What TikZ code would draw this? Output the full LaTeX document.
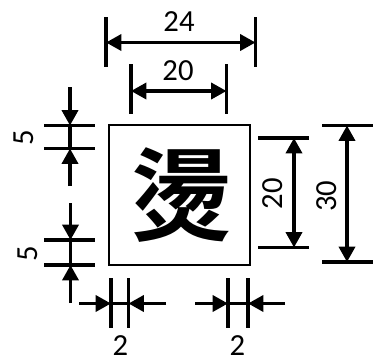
\documentclass[tikz,border=0pt]{standalone}
\usepackage{fontspec}
\setmainfont{Carlito}
\newfontfamily\cjk{Noto Sans CJK TC}[BoldFont={* Bold}]
\usetikzlibrary{arrows.meta}
\tikzset{
  x=0.75pt,y=-0.75pt,
  dimbar/.style={line width=2.6pt},
  dimline/.style={line width=2.6pt,{Triangle[length=11.5pt,width=12pt]}-{Triangle[length=11.5pt,width=12pt]}},
  oneend/.style={line width=2.6pt,-{Triangle[length=11.5pt,width=12pt]}},
  lab/.style={font=\fontsize{23}{24}\selectfont,inner sep=0pt},
  vlab/.style={lab,rotate=90}
}
\begin{document}
\begin{tikzpicture}
\useasboundingbox (0,0) rectangle (375,358);
\node[draw,line width=1.4pt,minimum width=105.5pt,minimum height=105pt,inner sep=0pt] (box) at (179.5,195) {};
\node[inner sep=0pt,font=\cjk\bfseries\fontsize{76}{76}\selectfont] (glyph) at (181.5,195) {燙};
% 24
\coordinate (a1) at (106,17);\coordinate (a2) at (106,67);\coordinate (a3) at (255.5,17);\coordinate (a4) at (255.5,67);
\coordinate (al) at (106,42.5);\coordinate (ar) at (255.5,42.5);
\draw[dimbar] (a1)--(a2);\draw[dimbar] (a3)--(a4);\draw[dimline] (al)--(ar);
\node[lab] (t24) at (179,22) {24};
% 20 top
\coordinate (b1) at (131,64);\coordinate (b2) at (131,114);\coordinate (b3) at (226.5,64);\coordinate (b4) at (226.5,114);
\coordinate (bl) at (131,91);\coordinate (br) at (226.5,91);
\draw[dimbar] (b1)--(b2);\draw[dimbar] (b3)--(b4);\draw[dimline] (bl)--(br);
\node[lab] (t20) at (178,71) {20};
% 5 upper
\coordinate (c1) at (44,125.5);\coordinate (c2) at (95,125.5);\coordinate (c3) at (44,148.5);\coordinate (c4) at (95,148.5);
\coordinate (ct) at (70,87);\coordinate (cu) at (70,125.5);\coordinate (cv) at (70,148.5);\coordinate (cb) at (70,186);
\draw[dimbar] (c1)--(c2);\draw[dimbar] (c3)--(c4);
\draw[oneend] (ct)--(cu);\draw[oneend] (cb)--(cv);\draw[line width=2.6pt] (cu)--(cv);
\node[vlab] (t5a) at (23.5,138) {5};
% 5 lower
\coordinate (d1) at (44,240);\coordinate (d2) at (95,240);\coordinate (d3) at (44,265);\coordinate (d4) at (95,265);
\coordinate (dt) at (70.5,203);\coordinate (du) at (70.5,240);\coordinate (dv) at (70.5,265);\coordinate (db) at (70.5,303);
\draw[dimbar] (d1)--(d2);\draw[dimbar] (d3)--(d4);
\draw[oneend] (dt)--(du);\draw[oneend] (db)--(dv);\draw[line width=2.6pt] (du)--(dv);
\node[vlab] (t5b) at (27.5,254) {5};
% 2 left
\coordinate (e1) at (111,278);\coordinate (e2) at (111,328);\coordinate (e3) at (128.5,278);\coordinate (e4) at (128.5,328);
\coordinate (el) at (79,303.5);\coordinate (eu) at (111,303.5);\coordinate (ev) at (128.5,303.5);\coordinate (er) at (166,303.5);
\draw[dimbar] (e1)--(e2);\draw[dimbar] (e3)--(e4);
\draw[oneend] (el)--(eu);\draw[oneend] (er)--(ev);\draw[line width=1.6pt] (eu)--(ev);
\node[lab] (t2a) at (120.5,345.5) {2};
% 2 right
\coordinate (f1) at (228,278);\coordinate (f2) at (228,328);\coordinate (f3) at (248,278);\coordinate (f4) at (248,328);
\coordinate (fl) at (195,303.5);\coordinate (fu) at (228,303.5);\coordinate (fv) at (248,303.5);\coordinate (fr) at (285,303.5);
\draw[dimbar] (f1)--(f2);\draw[dimbar] (f3)--(f4);
\draw[oneend] (fl)--(fu);\draw[oneend] (fr)--(fv);\draw[line width=1.6pt] (fu)--(fv);
\node[lab] (t2b) at (237.5,345.5) {2};
% 20 right
\coordinate (g1) at (258,138);\coordinate (g2) at (309,138);\coordinate (g3) at (258,247.5);\coordinate (g4) at (309,247.5);
\coordinate (gt) at (294,138);\coordinate (gb) at (294,247.5);
\draw[dimbar] (g1)--(g2);\draw[dimbar] (g3)--(g4);\draw[dimline] (gt)--(gb);
\node[vlab] (t20r) at (272.5,193.5) {20};
% 30
\coordinate (h1) at (322,125.5);\coordinate (h2) at (373,125.5);\coordinate (h3) at (322,262);\coordinate (h4) at (373,262);
\coordinate (ht) at (347,125.5);\coordinate (hb) at (347,262);
\draw[dimbar] (h1)--(h2);\draw[dimbar] (h3)--(h4);\draw[dimline] (ht)--(hb);
\node[vlab] (t30) at (326.5,196) {30};
\end{tikzpicture}
\end{document}
